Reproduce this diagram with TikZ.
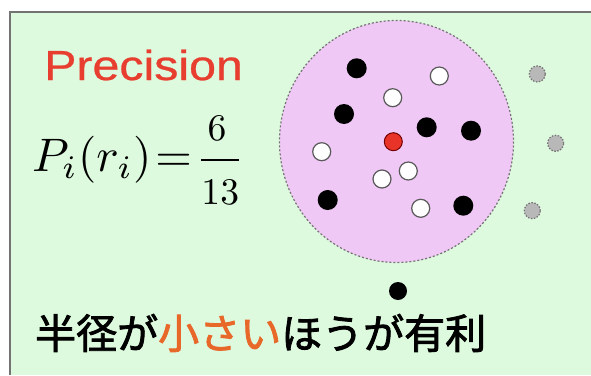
\documentclass[tikz,border=0pt]{standalone}
\usepackage{fontspec}
\usepackage{graphicx}
\setmainfont{Liberation Sans}
\newfontfamily\titlefont[FakeBold=0.6]{Liberation Sans}
\newfontfamily\jpfont[FakeBold=2]{Noto Sans CJK JP}
\definecolor{panelgreen}{RGB}{222,250,222}
\definecolor{radiuspink}{RGB}{240,200,245}
\definecolor{precred}{RGB}{232,62,48}
\definecolor{smallorange}{RGB}{232,104,42}
\definecolor{queryred}{RGB}{232,52,40}

\begin{document}
\begin{tikzpicture}[x=1pt,y=-1pt,
  reldot/.style={circle,fill=black,inner sep=0pt,minimum size=20pt},
  irrdot/.style={circle,draw=black!65,line width=1.2pt,fill=white,inner sep=0pt,minimum size=18pt},
  querydot/.style={circle,draw=red!45!black,line width=1pt,fill=queryred,inner sep=0pt,minimum size=18pt},
  outdot/.style={circle,draw=black!55,dash pattern=on 1.5pt off 1.5pt,line width=1.2pt,fill=black!28,inner sep=0pt,minimum size=16pt}]
\useasboundingbox (0,0) rectangle (591,375);
% Panel
\fill[white] (0,0) rectangle (591,375);
\fill[panelgreen] (10,12) rectangle (591,375);
\draw[black!55,line width=1.2pt] (10,375) -- (10,12) -- (591,12);
% Search radius
\draw[black!55,line width=1.2pt,dash pattern=on 2pt off 2pt,fill=radiuspink] (396.5,141.5) ellipse [x radius=117, y radius=121];
% Relevant items
\foreach \p [count=\i] in {(356.7,68.3),(344,114),(426.7,127.3),(471,130.7),(327.7,200),(463.3,205.7)}
  \node[reldot] (rel\i) at \p {};
% Irrelevant items
\foreach \p [count=\i] in {(439.3,76),(392.7,97.7),(321.7,151.7),(408.3,171),(382,179),(420.7,208.3)}
  \node[irrdot] (irr\i) at \p {};
% Query
\node[querydot] (query) at (393.3,141.7) {};
% Items outside the radius
\foreach \p [count=\i] in {(537.3,74),(555.7,143.3),(532.3,210.7)}
  \node[outdot] (out\i) at \p {};
\node[reldot,minimum size=18pt] (relout) at (398,291) {};
% Texts
\node[anchor=base west,inner sep=0pt,text=precred,font=\titlefont\fontsize{42}{42}\selectfont,xscale=1.15] (title) at (44,80) {Precision};
\node[anchor=west,inner sep=0pt] (prec) at (32,160)
  {\scalebox{4.7}{\thickmuskip=1.5mu$\displaystyle P_i(r_i)=\frac{\scalebox{.8}{$6$}}{\scalebox{.8}{$13$}}$}};
\node[anchor=west,inner sep=0pt,font=\jpfont\fontsize{41}{41}\selectfont] (verdict) at (35,333)
  {半径が\textcolor{smallorange}{小さい}ほうが有利};
\end{tikzpicture}
\end{document}
